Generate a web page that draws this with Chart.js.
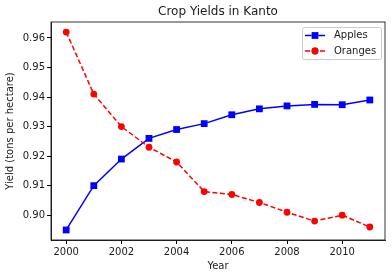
<!DOCTYPE html>
<html>
<head>
<meta charset="utf-8">
<script src="https://cdn.jsdelivr.net/npm/chart.js@4/dist/chart.umd.min.js"></script>
<style>
  html, body { margin: 0; padding: 0; background: #fff; }
  #wrap { width: 392px; height: 278px; }
</style>
</head>
<body>
<div id="wrap"><canvas id="chart" width="392" height="278"></canvas></div>
<script>
// === data ===
const years = [2000, 2001, 2002, 2003, 2004, 2005, 2006, 2007, 2008, 2009, 2010, 2011];
const apples = [0.895, 0.910, 0.919, 0.926, 0.929, 0.931, 0.934, 0.936, 0.937, 0.9375, 0.9374, 0.939];
const oranges = [0.962, 0.941, 0.930, 0.923, 0.918, 0.908, 0.907, 0.9043, 0.901, 0.898, 0.900, 0.896];
const xTicks = [2000, 2002, 2004, 2006, 2008, 2010];
const yTicks = [0.90, 0.91, 0.92, 0.93, 0.94, 0.95, 0.96];

const FONT = 'DejaVu Sans';
const TEXT = '#1a1a1a';

// frame round the plot, like matplotlib
const framePlugin = {
  id: 'frame',
  afterDraw(chart) {
    const a = chart.chartArea;
    const c = chart.ctx;
    c.save();
    c.strokeStyle = '#000';
    c.lineWidth = 0.8;
    c.strokeRect(a.left, a.top, a.right - a.left, a.bottom - a.top);
    c.restore();
  }
};

// legend drawn inside the plot, upper right
const insideLegend = {
  id: 'insideLegend',
  afterDraw(chart) {
    const c = chart.ctx;
    const box = { x: 302, y: 27, w: 79, h: 32 };
    c.save();
    c.fillStyle = 'rgba(255,255,255,0.8)';
    c.strokeStyle = '#cccccc';
    c.lineWidth = 1;
    c.beginPath();
    c.roundRect(box.x + 0.5, box.y + 0.5, box.w, box.h, 2);
    c.fill();
    c.stroke();

    chart.data.datasets.forEach((ds, i) => {
      const y = 35.5 + i * 15.5;
      c.strokeStyle = ds.borderColor;
      c.lineWidth = ds.borderWidth;
      c.setLineDash(ds.borderDash || []);
      c.beginPath();
      c.moveTo(305, y);
      c.lineTo(325, y);
      c.stroke();
      c.setLineDash([]);
      Chart.helpers.drawPoint(c, {
        pointStyle: ds.pointStyle,
        radius: ds.pointRadius,
        borderWidth: 0
      }, 315, y);
      c.fillStyle = ds.pointBackgroundColor;
      c.fill();
      c.fillStyle = TEXT;
      c.font = '10px ' + FONT;
      c.textBaseline = 'middle';
      c.textAlign = 'left';
      c.fillText(ds.label, 334, y);
    });
    c.restore();
  }
};

const ctx = document.getElementById('chart').getContext('2d');

new Chart(ctx, {
  type: 'line',
  data: {
    datasets: [
      {
        label: 'Apples',
        data: years.map((x, i) => ({ x, y: apples[i] })),
        borderColor: '#0000ff',
        backgroundColor: '#0000ff',
        pointBackgroundColor: '#0000ff',
        pointBorderWidth: 0,
        borderWidth: 1.5,
        pointStyle: 'rect',
        pointRadius: 4.8,
        tension: 0,
        order: 1
      },
      {
        label: 'Oranges',
        data: years.map((x, i) => ({ x, y: oranges[i] })),
        borderColor: '#ff0000',
        backgroundColor: '#ff0000',
        pointBackgroundColor: '#ff0000',
        pointBorderWidth: 0,
        borderWidth: 1.5,
        borderDash: [5, 2.5],
        pointStyle: 'circle',
        pointRadius: 3.4,
        tension: 0,
        order: 0
      }
    ]
  },
  options: {
    responsive: false,
    animation: false,
    layout: { padding: { left: 0, right: 7, top: 0, bottom: 0 } },
    plugins: {
      legend: { display: false },
      tooltip: { enabled: false },
      title: {
        display: true,
        fullSize: false,   // centre over the plot, not the canvas
        text: 'Crop Yields in Kanto',
        color: TEXT,
        font: { family: FONT, size: 12, weight: 'normal' },
        padding: { top: 5, bottom: 2.6 }
      }
    },
    scales: {
      x: {
        type: 'linear',
        min: 1999.45,
        max: 2011.55,
        afterBuildTicks: s => { s.ticks = xTicks.map(v => ({ value: v })); },
        afterFit: s => { s.height = 38; },
        ticks: {
          color: TEXT,
          font: { family: FONT, size: 10 },
          padding: 2,
          maxRotation: 0,
          callback: v => String(v)
        },
        grid: { drawOnChartArea: false, drawTicks: true, tickLength: 4, color: '#000' },
        border: { color: '#000', width: 0.8 },
        title: {
          display: true,
          text: 'Year',
          color: TEXT,
          font: { family: FONT, size: 10 },
          padding: { top: 6, bottom: 6 }
        }
      },
      y: {
        type: 'linear',
        min: 0.8916,
        max: 0.9654,
        afterBuildTicks: s => { s.ticks = yTicks.map(v => ({ value: v })); },
        afterFit: s => { s.width = 51; },
        ticks: {
          color: TEXT,
          font: { family: FONT, size: 10 },
          padding: 2,
          callback: v => v.toFixed(2)
        },
        grid: { drawOnChartArea: false, drawTicks: true, tickLength: 4, color: '#000' },
        border: { color: '#000', width: 0.8 },
        title: {
          display: true,
          text: 'Yield (tons per hectare)',
          color: TEXT,
          font: { family: FONT, size: 10 },
          padding: { top: 4, bottom: 4 }
        }
      }
    }
  },
  plugins: [framePlugin, insideLegend]
});
</script>
</body>
</html>
